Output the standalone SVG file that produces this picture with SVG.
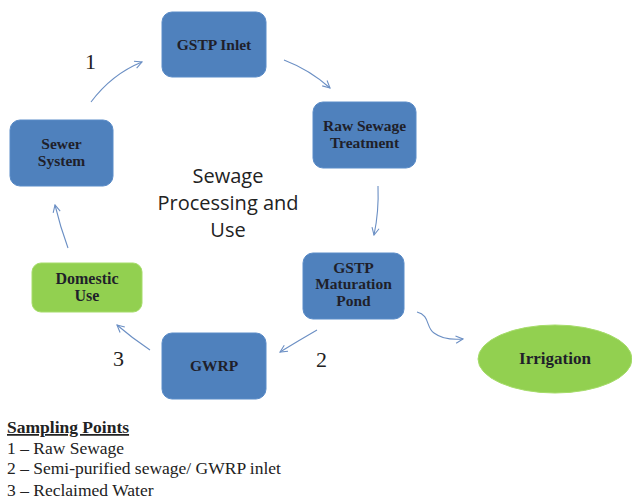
<svg xmlns="http://www.w3.org/2000/svg" width="632" height="499" viewBox="0 0 632 499">
<defs>
<marker id="ah" viewBox="0 0 10 10" refX="9" refY="5" markerWidth="9" markerHeight="9" orient="auto" markerUnits="userSpaceOnUse">
<path d="M1,1 L9,5 L1,9" fill="none" stroke="#6b8fc4" stroke-width="1.2"/>
</marker>
<style>
.b{fill:#4f81bd;stroke:#5b8cc8;stroke-width:1}
.g{fill:#92d050;stroke:#a6dc6a;stroke-width:1}
.t{font-family:"Liberation Serif",serif;font-weight:bold;font-size:15.5px;fill:#1f1f2a;text-anchor:middle}
.c{fill:none;stroke:#6b8fc4;stroke-width:1.1;marker-end:url(#ah)}
.n{font-family:"Liberation Serif",serif;font-size:22px;fill:#222}
.s{font-family:"Liberation Serif",serif;font-size:17.5px;fill:#222}
.m{font-family:"Open Sans","Liberation Sans",sans-serif;font-size:20px;fill:#222;text-anchor:middle}
</style>
</defs>
<rect width="632" height="499" fill="#fff"/>
<g id="connectors">
<path class="c" d="M91,102 Q112,74 142,62"/>
<path class="c" d="M284,60 Q310,70 330,88"/>
<path class="c" d="M378,186 Q379,212 374,235"/>
<path class="c" d="M317,330 Q298,341 280,352"/>
<path class="c" d="M150,350 Q132,338 117,325"/>
<path class="c" d="M68,248 Q60,226 55,205"/>
<path class="c" d="M417,312 C430,315 426,328 434,333 C442,339 452,340 463,339"/>
</g>
<g id="gstp-inlet"><rect class="b" x="162" y="12" width="104" height="65" rx="10"/><text class="t" x="214" y="50">GSTP Inlet</text></g>
<g id="raw-sewage"><rect class="b" x="313" y="102" width="103" height="66" rx="10"/><text class="t" x="364.5" y="131">Raw Sewage</text><text class="t" x="364.5" y="148">Treatment</text></g>
<g id="maturation"><rect class="b" x="303" y="253" width="101" height="66" rx="10"/><text class="t" x="353.5" y="273">GSTP</text><text class="t" x="353.5" y="289">Maturation</text><text class="t" x="353.5" y="306">Pond</text></g>
<g id="irrigation"><ellipse class="g" cx="555" cy="359" rx="77" ry="34"/><text class="t" x="555" y="364" style="font-size:17px">Irrigation</text></g>
<g id="gwrp"><rect class="b" x="162" y="333" width="104" height="66" rx="10"/><text class="t" x="214" y="371">GWRP</text></g>
<g id="domestic"><rect class="g" x="32" y="263" width="110" height="49" rx="9"/><text class="t" x="87" y="284" style="font-size:16px">Domestic</text><text class="t" x="87" y="301" style="font-size:16px">Use</text></g>
<g id="sewer"><rect class="b" x="10" y="120" width="103" height="66" rx="10"/><text class="t" x="61.5" y="149">Sewer</text><text class="t" x="61.5" y="166">System</text></g>
<g id="labels">
<text class="m" x="228" y="183">Sewage</text>
<text class="m" x="228" y="210">Processing and</text>
<text class="m" x="228" y="237">Use</text>
<text class="n" x="85" y="69">1</text>
<text class="n" x="113" y="366">3</text>
<text class="n" x="316" y="367">2</text>
<text class="s" x="7" y="433" font-weight="bold" text-decoration="underline">Sampling Points</text>
<text class="s" x="7" y="454">1 – Raw Sewage</text>
<text class="s" x="7" y="474">2 – Semi-purified sewage/ GWRP inlet</text>
<text class="s" x="7" y="496">3 – Reclaimed Water</text>
</g>
</svg>
